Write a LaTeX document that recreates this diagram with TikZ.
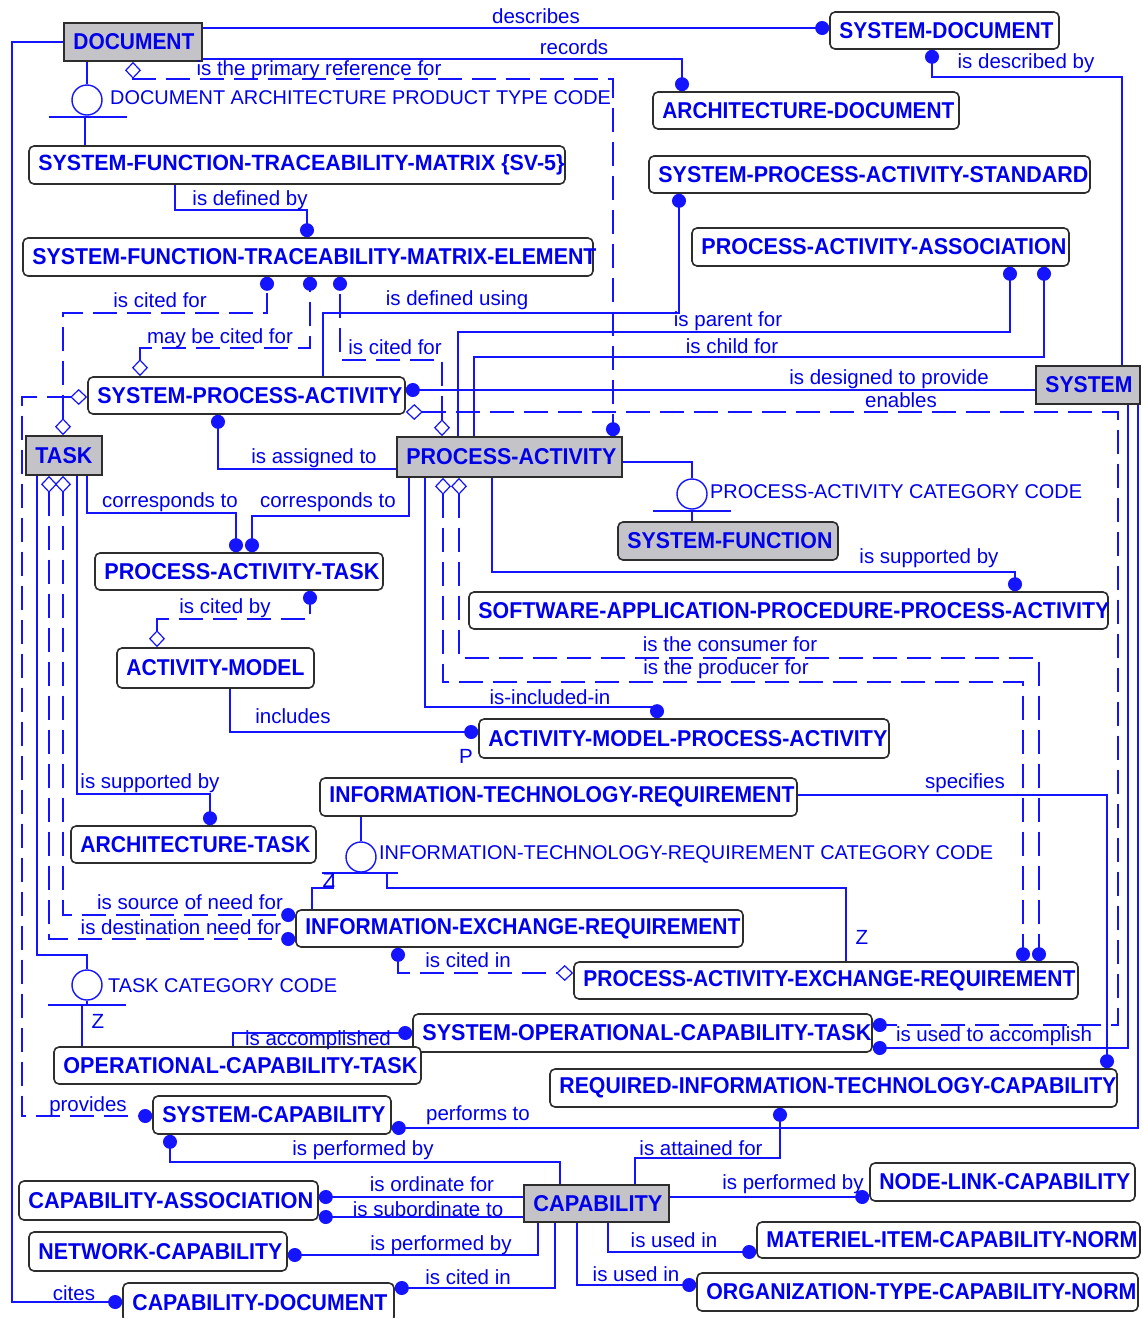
\documentclass[tikz,border=0pt]{standalone}
\usepackage{fontspec}
\setmainfont{Liberation Sans}
\usetikzlibrary{arrows.meta,calc}
\definecolor{lnblue}{RGB}{20,20,255}
\definecolor{txblue}{RGB}{0,0,235}
\definecolor{entgrey}{RGB}{196,196,200}
\definecolor{edgegrey}{RGB}{45,45,45}

\tikzset{
  box/.style={draw=edgegrey, line width=1.6pt, inner sep=0pt},
  wbox/.style={box, fill=white, rounded corners=5pt},
  gbox/.style={box, fill=entgrey},
  gbr/.style={box, fill=entgrey, rounded corners=5pt},
  enttext/.style={anchor=west, inner sep=0pt, text=txblue, font=\bfseries\fontsize{21.5}{24}\selectfont},
  lab/.style={inner sep=0pt, text=txblue, font=\fontsize{20.5}{22}\selectfont},
  cat/.style={lab, anchor=west, font=\fontsize{19.9}{22}\selectfont},
  rel/.style={draw=lnblue, line width=1.4pt},
  nid/.style={rel, dash pattern=on 24pt off 10pt},
  dotE/.style={-{Circle[length=14pt]}},
  dotS/.style={{Circle[length=14pt]}-},
  diaS/.style={{Diamond[length=17pt,width=16pt,fill=white,line width=1.2pt]}-{Circle[length=14pt]}},
  dotSdiaE/.style={{Circle[length=14pt]}-{Diamond[length=17pt,width=16pt,fill=white,line width=1.2pt]}},
  catc/.style={circle, draw=lnblue, line width=1.4pt, fill=white, minimum size=30pt, inner sep=0pt},
}

% entity box: name, x1, y1, x2, y2, style, text, right end of the text
\newcommand\mkent[8]{%
  \node[#6, minimum width={#4-#2}, minimum height={#5-#3}] (#1) at ({(#2+#4)/2},{(#3+#5)/2}) {};
  \node[enttext] (#1-t) at ([xshift=10pt]#1.west)
    {\resizebox{\dimexpr\numexpr#8-#2-10\relax pt\relax}{16pt}{#7}};}

\begin{document}
\begin{tikzpicture}[x=1pt,y=-1pt]
\fill[white] (0,0) rectangle (1143,1318);
\useasboundingbox (0,0) rectangle (1143,1318);

% ---------- entities ----------
\mkent{doc}{64}{23}{202}{61}{gbox}{DOCUMENT}{195}
\mkent{sd}{830}{12}{1059}{49}{wbox}{SYSTEM-DOCUMENT}{1054}
\mkent{ad}{653}{92}{959}{129}{wbox}{ARCHITECTURE-DOCUMENT}{955}
\mkent{spas}{649}{156}{1090}{193}{wbox}{SYSTEM-PROCESS-ACTIVITY-STANDARD}{1089}
\mkent{paa}{692}{228}{1069}{266}{wbox}{PROCESS-ACTIVITY-ASSOCIATION}{1067}
\mkent{sftm}{29}{146}{565}{184}{wbox}{SYSTEM-FUNCTION-TRACEABILITY-MATRIX \{SV-5\}}{565}
\mkent{sftme}{23}{238}{593}{276}{wbox}{SYSTEM-FUNCTION-TRACEABILITY-MATRIX-ELEMENT}{597}
\mkent{spa}{88}{377}{405}{414}{wbox}{SYSTEM-PROCESS-ACTIVITY}{403}
\mkent{task}{26}{436}{102}{475}{gbox}{TASK}{93}
\mkent{pa}{397}{437}{622}{477}{gbox}{PROCESS-ACTIVITY}{617}
\mkent{sys}{1036}{366}{1140}{404}{gbox}{SYSTEM}{1133}
\mkent{sf}{618}{522}{838}{560}{gbr}{SYSTEM-FUNCTION}{833}
\mkent{pat}{95}{553}{383}{590}{wbox}{PROCESS-ACTIVITY-TASK}{380}
\mkent{sappa}{469}{592}{1108}{629}{wbox}{SOFTWARE-APPLICATION-PROCEDURE-PROCESS-ACTIVITY}{1110}
\mkent{am}{117}{648}{314}{688}{wbox}{ACTIVITY-MODEL}{305}
\mkent{ampa}{479}{719}{889}{758}{wbox}{ACTIVITY-MODEL-PROCESS-ACTIVITY}{888}
\mkent{itr}{320}{778}{797}{816}{wbox}{INFORMATION-TECHNOLOGY-REQUIREMENT}{795}
\mkent{at}{71}{826}{316}{863}{wbox}{ARCHITECTURE-TASK}{311}
\mkent{ier}{296}{910}{743}{947}{wbox}{INFORMATION-EXCHANGE-REQUIREMENT}{741}
\mkent{paer}{574}{962}{1078}{999}{wbox}{PROCESS-ACTIVITY-EXCHANGE-REQUIREMENT}{1076}
\mkent{soct}{413}{1014}{872}{1052}{wbox}{SYSTEM-OPERATIONAL-CAPABILITY-TASK}{872}
\mkent{oct}{54}{1047}{421}{1084}{wbox}{OPERATIONAL-CAPABILITY-TASK}{418}
\mkent{ritc}{550}{1069}{1117}{1107}{wbox}{REQUIRED-INFORMATION-TECHNOLOGY-CAPABILITY}{1117}
\mkent{sc}{153}{1096}{391}{1134}{wbox}{SYSTEM-CAPABILITY}{386}
\mkent{cap}{524}{1185}{669}{1222}{gbox}{CAPABILITY}{663}
\mkent{ca}{19}{1181}{318}{1220}{wbox}{CAPABILITY-ASSOCIATION}{314}
\mkent{nc}{29}{1232}{287}{1271}{wbox}{NETWORK-CAPABILITY}{283}
\mkent{cd}{123}{1283}{394}{1322}{wbox}{CAPABILITY-DOCUMENT}{388}
\mkent{nlc}{870}{1163}{1135}{1201}{wbox}{NODE-LINK-CAPABILITY}{1131}
\mkent{micn}{757}{1222}{1140}{1258}{wbox}{MATERIEL-ITEM-CAPABILITY-NORM}{1138}
\mkent{otcn}{697}{1273}{1138}{1311}{wbox}{ORGANIZATION-TYPE-CAPABILITY-NORM}{1137}

% ---------- relationships ----------
\draw[rel,dotE] (doc.east |- 0,28) -- (sd.west |- 0,28);
\draw[rel,dotE] (doc.east |- 0,59) -- (682,59) -- (682,0 |- ad.north);
\draw[nid,diaS] (133,0 |- doc.south) -- (133,79) -- (613,79) -- (613,0 |- pa.north);
\draw[rel,dotS] (932,0 |- sd.south) -- (932,77) -- (1122,77) -- (1122,0 |- sys.north);
\draw[rel,dotE] (175,0 |- sftm.south) -- (175,210) -- (307,210) -- (307,0 |- sftme.north);
\draw[nid,diaS] (63,0 |- task.north) -- (63,313) -- (267,313) -- (267,0 |- sftme.south);
\draw[nid,diaS] (140,0 |- spa.north) -- (140,348) -- (310,348) -- (310,0 |- sftme.south);
\draw[nid,diaS] (442,0 |- pa.north) -- (442,360) -- (340,360) -- (340,0 |- sftme.south);
\draw[rel,dotE] (323,0 |- spa.north) -- (323,313) -- (679,313) -- (679,0 |- spas.south);
\draw[rel,dotS] (1010,0 |- paa.south) -- (1010,332) -- (458,332) -- (458,0 |- pa.north);
\draw[rel,dotS] (1044,0 |- paa.south) -- (1044,357) -- (474,357) -- (474,0 |- pa.north);
\draw[rel,dotS] (spa.east |- 0,390) -- (sys.west |- 0,390);
\draw[nid,diaS] (spa.east |- 0,412) -- (1118,412) -- (1118,1025) -- (soct.east |- 0,1025);
\draw[nid,diaS] (spa.west |- 0,397) -- (22,397) -- (22,1116) -- (sc.west |- 0,1116);
\draw[rel,dotS] (218,0 |- spa.south) -- (218,469) -- (pa.west |- 0,469);
\draw[rel,dotE] (87,0 |- task.south) -- (87,513) -- (236,513) -- (236,0 |- pat.north);
\draw[rel,dotE] (409,0 |- pa.south) -- (409,516) -- (252,516) -- (252,0 |- pat.north);
\draw[nid,diaS] (157,0 |- am.north) -- (157,619) -- (310,619) -- (310,0 |- pat.south);
\draw[rel,dotE] (492,0 |- pa.south) -- (492,572) -- (1015,572) -- (1015,0 |- sappa.north);
\draw[nid,diaS] (459,0 |- pa.south) -- (459,658) -- (1039,658) -- (1039,0 |- paer.north);
\draw[nid,diaS] (443,0 |- pa.south) -- (443,682) -- (1023,682) -- (1023,0 |- paer.north);
\draw[rel,dotE] (425,0 |- pa.south) -- (425,707) -- (657,707) -- (657,0 |- ampa.north);
\draw[rel,dotE] (230,0 |- am.south) -- (230,732) -- (ampa.west |- 0,732);
\draw[rel,dotE] (77,0 |- task.south) -- (77,794) -- (210,794) -- (210,0 |- at.north);
\draw[nid,diaS] (63,0 |- task.south) -- (63,915) -- (ier.west |- 0,915);
\draw[nid,diaS] (49,0 |- task.south) -- (49,939) -- (ier.west |- 0,939);
\draw[rel,dotE] (itr.east |- 0,795) -- (1107,795) -- (1107,0 |- ritc.north);
\draw[nid,dotSdiaE] (398,0 |- ier.south) -- (398,973) -- (paer.west |- 0,973);
\draw[rel,dotE] (233,0 |- oct.north) -- (233,1033) -- (soct.west |- 0,1033);
\draw[rel,dotE] (1128,0 |- sys.south) -- (1128,1048) -- (soct.east |- 0,1048);
\draw[rel,dotE] (1138,0 |- sys.south) -- (1138,1128) -- (sc.east |- 0,1128);
\draw[rel,dotE] (doc.west |- 0,42) -- (12,42) -- (12,1302) -- (cd.west |- 0,1302);
\draw[rel,dotS] (780,0 |- ritc.south) -- (780,1158) -- (635,1158) -- (635,0 |- cap.north);
\draw[rel,dotS] (170,0 |- sc.south) -- (170,1162) -- (560,1162) -- (560,0 |- cap.north);
\draw[rel,dotE] (cap.west |- 0,1197) -- (ca.east |- 0,1197);
\draw[rel,dotE] (cap.west |- 0,1217) -- (ca.east |- 0,1217);
\draw[rel,dotE] (538,0 |- cap.south) -- (538,1255) -- (nc.east |- 0,1255);
\draw[rel,dotE] (555,0 |- cap.south) -- (555,1288) -- (cd.east |- 0,1288);
\draw[rel,dotE] (cap.east |- 0,1197) -- (nlc.west |- 0,1197);
\draw[rel,dotE] (608,0 |- cap.south) -- (608,1252) -- (micn.west |- 0,1252);
\draw[rel,dotE] (577,0 |- cap.south) -- (577,1285) -- (otcn.west |- 0,1285);

% ---------- category clusters ----------
\node[catc] (dcat) at (87,100) {};
\draw[rel] (87,0 |- doc.south) -- (dcat.north);
\draw[rel] (49,117) -- (127,117);
\draw[rel] (dcat.south) -- (87,117);
\draw[rel] (85,117) -- (85,0 |- sftm.north);
\node[cat] at (110,98) {DOCUMENT ARCHITECTURE PRODUCT TYPE CODE};

\node[catc] (pcat) at (692,494) {};
\draw[rel] (pa.east |- 0,462) -- (692,462) -- (pcat.north);
\draw[rel] (pcat.south) -- (692,511);
\draw[rel] (653,511) -- (731,511);
\draw[rel] (692,511) -- (692,0 |- sf.north);
\node[cat] at (710,492) {PROCESS-ACTIVITY CATEGORY CODE};

\node[catc] (icat) at (361,857) {};
\draw[rel] (361,0 |- itr.south) -- (icat.north);
\draw[rel] (icat.south) -- (361,873);
\draw[rel] (322,873) -- (398,873);
\draw[rel] (333,873) -- (333,888) -- (312,888) -- (312,0 |- ier.north);
\draw[rel] (387,873) -- (387,888) -- (846,888) -- (846,0 |- paer.north);
\node[cat] at (379,854) {INFORMATION-TECHNOLOGY-REQUIREMENT CATEGORY CODE};
\node[lab] at (329,880) {Z};
\node[lab] at (862,937) {Z};

\node[catc] (tcat) at (87,985) {};
\draw[rel] (37,0 |- task.south) -- (37,955) -- (87,955) -- (tcat.north);
\draw[rel] (tcat.south) -- (87,1005);
\draw[rel] (48,1005) -- (126,1005);
\draw[rel] (82,1005) -- (82,0 |- oct.north);
\node[cat] at (108,986) {TASK CATEGORY CODE};
\node[lab] at (98,1021) {Z};

% ---------- relationship labels ----------
\node[lab] at (536,16) {describes};
\node[lab] at (574,47) {records};
\node[lab] at (319,70) {is the primary reference for};
\node[lab] at (1026,63) {is described by};
\node[lab] at (250,200) {is defined by};
\node[lab] at (160,300) {is cited for};
\node[lab] at (457,300) {is defined using};
\node[lab] at (220,338) {may be cited for};
\node[lab] at (395,347) {is cited for};
\node[lab] at (728,321) {is parent for};
\node[lab] at (732,346) {is child for};
\node[lab] at (889,379) {is designed to provide};
\node[lab] at (901,400) {enables};
\node[lab] at (314,458) {is assigned to};
\node[lab] at (170,502) {corresponds to};
\node[lab] at (328,502) {corresponds to};
\node[lab] at (929,558) {is supported by};
\node[lab] at (225,608) {is cited by};
\node[lab] at (730,644) {is the consumer for};
\node[lab] at (726,669) {is the producer for};
\node[lab] at (550,697) {is-included-in};
\node[lab] at (293,716) {includes};
\node[lab] at (466,756) {P};
\node[lab] at (150,783) {is supported by};
\node[lab] at (965,783) {specifies};
\node[lab] at (190,902) {is source of need for};
\node[lab] at (181,927) {is destination need for};
\node[lab] at (468,960) {is cited in};
\node[lab] at (318,1040) {is accomplished};
\node[lab] at (994,1036) {is used to accomplish};
\node[lab] at (88,1106) {provides};
\node[lab] at (478,1115) {performs to};
\node[lab] at (363,1150) {is performed by};
\node[lab] at (701,1148) {is attained for};
\node[lab] at (432,1184) {is ordinate for};
\node[lab] at (793,1184) {is performed by};
\node[lab] at (428,1209) {is subordinate to};
\node[lab] at (674,1240) {is used in};
\node[lab] at (441,1245) {is performed by};
\node[lab] at (468,1277) {is cited in};
\node[lab] at (636,1274) {is used in};
\node[lab] at (74,1293) {cites};
\end{tikzpicture}
\end{document}
